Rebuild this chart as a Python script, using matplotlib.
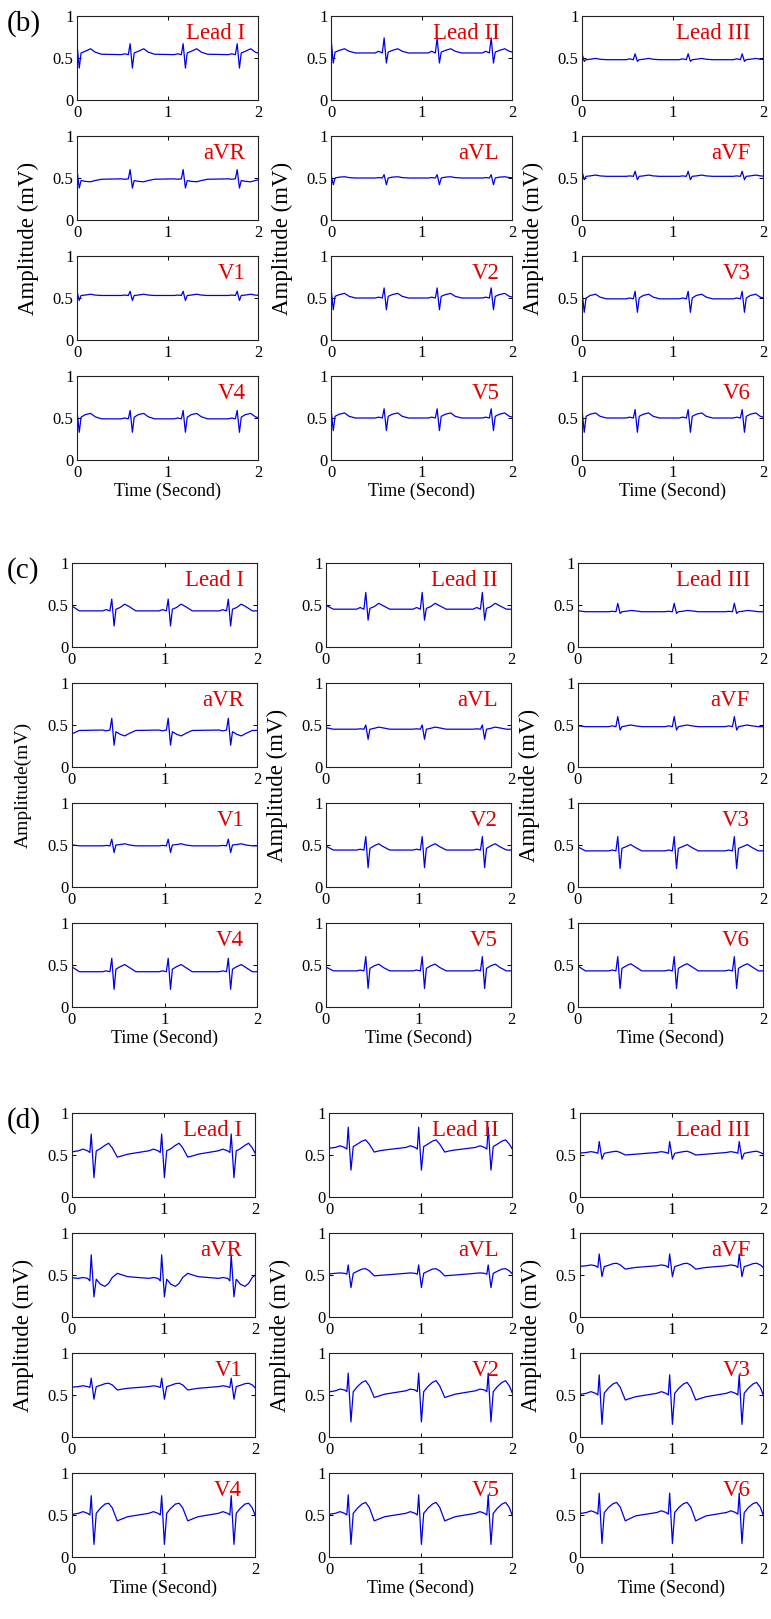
import matplotlib
matplotlib.use("Agg")
import matplotlib.pyplot as plt

W, H = 771, 1619

LEADS = ["Lead I", "Lead II", "Lead III", "aVR", "aVL", "aVF",
         "V1", "V2", "V3", "V4", "V5", "V6"]

# R-peak times (s) for each recording; extra beats outside 0-2 s keep the edges filled
R_TIMES_B = [0.0, 0.587, 1.173, 1.77, 2.36]
R_TIMES_C = [-0.18, 0.43, 1.04, 1.69, 2.30]
R_TIMES_D = [-0.55, 0.21, 0.98, 1.74]

# beat key points, offset from R peak (s)
# (b), (c): pre, P, Q, R, S, J, ST, T, T down, end
OFFSETS_B = [-0.10, -0.06, -0.02, 0.0, 0.025, 0.045, 0.09, 0.15, 0.20, 0.27]
OFFSETS_C = [-0.10, -0.06, -0.02, 0.0, 0.025, 0.045, 0.09, 0.14, 0.19, 0.26]
# (d): pre, P, PR, Q, R, S, J, ST1, ST2, T, T down, undershoot, U2, recovery
OFFSETS_D = [-0.14, -0.09, -0.04, -0.015, 0.0, 0.03, 0.055, 0.10, 0.15, 0.19,
             0.23, 0.285, 0.34, 0.40]

# amplitude (mV) at each key point, one row per lead
WAVE_B = [
    [0.54, 0.55, 0.54, 0.67, 0.38, 0.56, 0.58, 0.61, 0.57, 0.545],   # Lead I
    [0.56, 0.58, 0.56, 0.74, 0.44, 0.57, 0.59, 0.61, 0.58, 0.56],    # Lead II
    [0.48, 0.49, 0.48, 0.55, 0.46, 0.48, 0.485, 0.495, 0.485, 0.48], # Lead III
    [0.49, 0.485, 0.49, 0.60, 0.38, 0.47, 0.46, 0.455, 0.47, 0.485], # aVR
    [0.50, 0.505, 0.50, 0.54, 0.42, 0.50, 0.51, 0.515, 0.505, 0.50], # aVL
    [0.52, 0.525, 0.52, 0.58, 0.48, 0.52, 0.525, 0.535, 0.525, 0.52],# aVF
    [0.53, 0.535, 0.53, 0.58, 0.47, 0.53, 0.535, 0.545, 0.535, 0.53],# V1
    [0.50, 0.51, 0.50, 0.62, 0.36, 0.52, 0.54, 0.555, 0.52, 0.50],   # V2
    [0.49, 0.50, 0.49, 0.58, 0.33, 0.50, 0.53, 0.545, 0.51, 0.49],   # V3
    [0.49, 0.50, 0.49, 0.59, 0.33, 0.51, 0.54, 0.555, 0.515, 0.49],  # V4
    [0.50, 0.51, 0.50, 0.61, 0.35, 0.52, 0.545, 0.56, 0.52, 0.50],   # V5
    [0.50, 0.51, 0.50, 0.60, 0.33, 0.52, 0.545, 0.56, 0.52, 0.50],   # V6
]

WAVE_C = [
    [0.43, 0.445, 0.43, 0.57, 0.25, 0.45, 0.47, 0.51, 0.48, 0.43],   # Lead I
    [0.45, 0.47, 0.45, 0.65, 0.32, 0.46, 0.48, 0.52, 0.49, 0.45],    # Lead II
    [0.42, 0.425, 0.42, 0.52, 0.40, 0.42, 0.425, 0.435, 0.43, 0.42], # Lead III
    [0.44, 0.43, 0.44, 0.58, 0.26, 0.42, 0.39, 0.37, 0.40, 0.435],   # aVR
    [0.45, 0.455, 0.45, 0.50, 0.33, 0.45, 0.46, 0.475, 0.465, 0.45], # aVL
    [0.48, 0.49, 0.48, 0.60, 0.44, 0.48, 0.49, 0.50, 0.49, 0.48],    # aVF
    [0.49, 0.495, 0.49, 0.57, 0.41, 0.50, 0.505, 0.515, 0.50, 0.49], # V1
    [0.44, 0.45, 0.44, 0.60, 0.23, 0.46, 0.49, 0.515, 0.48, 0.44],   # V2
    [0.43, 0.44, 0.43, 0.60, 0.22, 0.46, 0.48, 0.505, 0.47, 0.43],   # V3
    [0.42, 0.43, 0.42, 0.58, 0.21, 0.45, 0.48, 0.505, 0.47, 0.42],   # V4
    [0.43, 0.44, 0.43, 0.60, 0.22, 0.46, 0.49, 0.51, 0.47, 0.43],    # V5
    [0.43, 0.44, 0.43, 0.60, 0.22, 0.46, 0.49, 0.515, 0.48, 0.43],   # V6
]

WAVE_D = [
    [0.55, 0.57, 0.55, 0.53, 0.75, 0.23, 0.55, 0.575, 0.615, 0.64, 0.585, 0.475, 0.49, 0.51],  # Lead I
    [0.59, 0.61, 0.59, 0.57, 0.83, 0.32, 0.60, 0.63, 0.665, 0.68, 0.63, 0.535, 0.55, 0.56],    # Lead II
    [0.53, 0.54, 0.53, 0.52, 0.66, 0.45, 0.52, 0.53, 0.54, 0.545, 0.53, 0.50, 0.505, 0.51],    # Lead III
    [0.46, 0.47, 0.46, 0.43, 0.74, 0.24, 0.45, 0.39, 0.365, 0.40, 0.47, 0.52, 0.50, 0.48],     # aVR
    [0.52, 0.525, 0.52, 0.51, 0.62, 0.35, 0.52, 0.545, 0.57, 0.575, 0.55, 0.49, 0.495, 0.50],  # aVL
    [0.61, 0.62, 0.61, 0.59, 0.75, 0.48, 0.60, 0.615, 0.635, 0.64, 0.62, 0.57, 0.58, 0.59],    # aVF
    [0.60, 0.61, 0.60, 0.59, 0.70, 0.45, 0.60, 0.615, 0.635, 0.64, 0.62, 0.56, 0.57, 0.58],    # V1
    [0.55, 0.57, 0.56, 0.54, 0.76, 0.18, 0.54, 0.60, 0.65, 0.67, 0.61, 0.47, 0.49, 0.51],      # V2
    [0.52, 0.54, 0.52, 0.50, 0.74, 0.15, 0.52, 0.58, 0.63, 0.65, 0.59, 0.44, 0.46, 0.48],      # V3
    [0.52, 0.54, 0.52, 0.50, 0.73, 0.15, 0.52, 0.58, 0.63, 0.64, 0.585, 0.43, 0.455, 0.48],    # V4
    [0.52, 0.54, 0.52, 0.50, 0.74, 0.15, 0.52, 0.58, 0.63, 0.65, 0.59, 0.43, 0.455, 0.48],     # V5
    [0.53, 0.55, 0.53, 0.51, 0.76, 0.16, 0.53, 0.59, 0.635, 0.65, 0.595, 0.43, 0.46, 0.49],    # V6
]

X_TICKS = [0, 1, 2]
Y_TICKS = [0, 0.5, 1]
Y_TICK_LABELS = ["0", "0.5", "1"]

plt.rcParams["font.family"] = ["Liberation Serif", "DejaVu Serif"]
plt.rcParams["xtick.direction"] = "in"
plt.rcParams["ytick.direction"] = "in"

# pixel layout of each block: letter, row tops, column lefts, axes width, first-column y label
BLOCKS = [
    ("(b)", R_TIMES_B, OFFSETS_B, WAVE_B, [16, 136, 256, 376], [77, 331, 582], 181,
     "Amplitude (mV)", 16.5),
    ("(c)", R_TIMES_C, OFFSETS_C, WAVE_C, [563, 683, 803, 923], [72, 326, 578], 185,
     "Amplitude(mV)", 14),
    ("(d)", R_TIMES_D, OFFSETS_D, WAVE_D, [1113, 1233, 1353, 1473], [72, 329, 580], 183,
     "Amplitude (mV)", 16.5),
]
AX_H = 84


def build_trace(r_times, offsets, values):
    t, v = [], []
    for r in r_times:
        for dt, val in zip(offsets, values):
            t.append(r + dt)
            v.append(val)
    return t, v


fig = plt.figure(figsize=(W / 100, H / 100), dpi=100)

for letter, r_times, offsets, wave, tops, lefts, ax_w, ylab, ylab_size in BLOCKS:
    for i, lead in enumerate(LEADS):
        row, col = divmod(i, 3)
        left, top = lefts[col], tops[row]
        ax = fig.add_axes([left / W, 1 - (top + AX_H) / H, ax_w / W, AX_H / H])
        t, v = build_trace(r_times, offsets, wave[i])
        ax.plot(t, v, color="#0000e6", lw=0.9)
        ax.set_xlim(0, 2)
        ax.set_ylim(0, 1)
        ax.set_xticks(X_TICKS)
        ax.set_yticks(Y_TICKS)
        ax.set_yticklabels(Y_TICK_LABELS)
        ax.tick_params(labelsize=12, length=3, width=0.7, top=True, right=True)
        ax.tick_params(axis="y", pad=2.5)
        ax.tick_params(axis="x", pad=3.5)
        for s in ax.spines.values():
            s.set_linewidth(0.8)
            s.set_color("#222222")
        ax.text(0.93, 0.79, lead, transform=ax.transAxes, ha="right", va="center",
                color="#e00000", fontsize=16.5)
        if row == 3:
            fig.text((left + ax_w / 2) / W, 1 - (top + AX_H + 31) / H, "Time (Second)",
                     ha="center", va="center", fontsize=13)
    yc = (tops[1] + tops[2] + AX_H) / 2
    for col, left in enumerate(lefts):
        text = ylab if col == 0 else "Amplitude (mV)"
        size = ylab_size if col == 0 else 16.5
        fig.text((left - 49) / W, 1 - yc / H, text, rotation=90,
                 ha="center", va="center", fontsize=size)
    fig.text(7 / W, 1 - (tops[0] + 8) / H, letter, ha="left", va="center", fontsize=21)

fig.savefig("out.png", dpi=100)
